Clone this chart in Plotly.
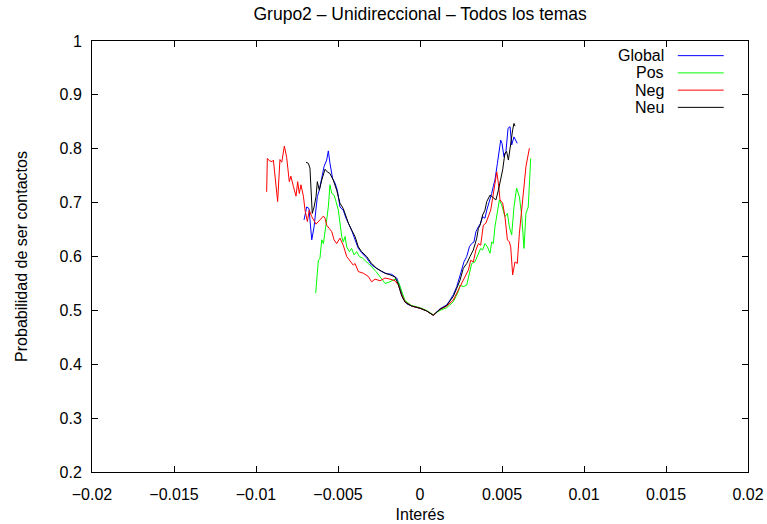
import plotly.graph_objects as go

# ---- data ----
x_global = [-0.00707, -0.00691, -0.00677, -0.00660, -0.00646, -0.00634, -0.00626, -0.00614, -0.00599, -0.00585,
            -0.00569, -0.00559, -0.00549, -0.00533, -0.00518, -0.00504, -0.00488, -0.00468, -0.00451, -0.00437,
            -0.00417, -0.00396, -0.00376, -0.00356, -0.00325, -0.00295, -0.00264, -0.00234, -0.00203, -0.00173,
            -0.00142, -0.00122, -0.00102, -0.00080, -0.00050, 0.0, 0.00040, 0.00081, 0.00122, 0.00163,
            0.00183, 0.00203, 0.00224, 0.00240, 0.00254, 0.00268, 0.00285, 0.00301, 0.00315, 0.00329,
            0.00341, 0.00356, 0.00370, 0.00382, 0.00396, 0.00407, 0.00417, 0.00427, 0.00437, 0.00447,
            0.00457, 0.00472, 0.00484, 0.00492, 0.00500, 0.00512, 0.00524, 0.00537, 0.00549, 0.00559,
            0.00573, 0.00593]
y_global = [0.668, 0.692, 0.689, 0.631, 0.655, 0.686, 0.711, 0.723, 0.748, 0.767,
            0.779, 0.796, 0.773, 0.745, 0.736, 0.723, 0.692, 0.686, 0.671, 0.662,
            0.649, 0.631, 0.615, 0.607, 0.597, 0.584, 0.578, 0.572, 0.568, 0.567,
            0.560, 0.544, 0.522, 0.512, 0.508, 0.504, 0.499, 0.491, 0.503, 0.510,
            0.519, 0.529, 0.544, 0.563, 0.575, 0.590, 0.600, 0.618, 0.624, 0.627,
            0.646, 0.655, 0.662, 0.674, 0.671, 0.686, 0.696, 0.705, 0.717, 0.730,
            0.742, 0.773, 0.804, 0.816, 0.810, 0.785, 0.795, 0.838, 0.841, 0.807,
            0.822, 0.810]

x_pos = [-0.00636, -0.00626, -0.00620, -0.00610, -0.00599, -0.00589, -0.00579, -0.00569, -0.00559, -0.00549,
         -0.00538, -0.00524, -0.00512, -0.00498, -0.00488, -0.00477, -0.00468, -0.00457, -0.00447, -0.00431,
         -0.00417, -0.00402, -0.00386, -0.00370, -0.00350, -0.00325, -0.00295, -0.00268, -0.00244, -0.00213,
         -0.00183, -0.00152, -0.00132, -0.00112, -0.00091, -0.00051, 0.0, 0.00040, 0.00081, 0.00122,
         0.00163, 0.00203, 0.00234, 0.00244, 0.00264, 0.00285, 0.00301, 0.00315, 0.00335, 0.00356,
         0.00370, 0.00382, 0.00396, 0.00411, 0.00427, 0.00437, 0.00447, 0.00457, 0.00472, 0.00484,
         0.00498, 0.00508, 0.00518, 0.00533, 0.00545, 0.00559, 0.00573, 0.00589, 0.00606, 0.00620,
         0.00634, 0.00646, 0.00660, 0.00675]
y_pos = [0.532, 0.575, 0.592, 0.597, 0.631, 0.624, 0.643, 0.668, 0.692, 0.733,
         0.717, 0.714, 0.702, 0.686, 0.662, 0.637, 0.627, 0.637, 0.618, 0.609,
         0.615, 0.603, 0.609, 0.600, 0.597, 0.590, 0.581, 0.572, 0.563, 0.550,
         0.553, 0.558, 0.553, 0.535, 0.518, 0.509, 0.505, 0.500, 0.492, 0.500,
         0.505, 0.516, 0.535, 0.547, 0.544, 0.547, 0.569, 0.587, 0.590, 0.606,
         0.615, 0.612, 0.624, 0.618, 0.606, 0.627, 0.624, 0.655, 0.680, 0.705,
         0.696, 0.686, 0.674, 0.680, 0.655, 0.640, 0.692, 0.727, 0.711, 0.677,
         0.615, 0.680, 0.692, 0.782]

x_neg = [-0.00935, -0.00931, -0.00919, -0.00902, -0.00894, -0.00868, -0.00854, -0.00843, -0.00827, -0.00813,
         -0.00797, -0.00787, -0.00772, -0.00756, -0.00746, -0.00736, -0.00726, -0.00711, -0.00701, -0.00687,
         -0.00675, -0.00660, -0.00634, -0.00614, -0.00589, -0.00579, -0.00569, -0.00553, -0.00538, -0.00524,
         -0.00508, -0.00488, -0.00468, -0.00447, -0.00423, -0.00407, -0.00396, -0.00376, -0.00346, -0.00315,
         -0.00295, -0.00274, -0.00244, -0.00213, -0.00183, -0.00152, -0.00132, -0.00112, -0.00091, -0.00051,
         0.0, 0.00040, 0.00081, 0.00122, 0.00163, 0.00203, 0.00234, 0.00254, 0.00274, 0.00295,
         0.00309, 0.00325, 0.00341, 0.00356, 0.00370, 0.00386, 0.00402, 0.00417, 0.00431, 0.00443,
         0.00457, 0.00468, 0.00478, 0.00488, 0.00504, 0.00518, 0.00533, 0.00545, 0.00553, 0.00565,
         0.00579, 0.00593, 0.00606, 0.00620, 0.00634, 0.00646, 0.00667]
y_neg = [0.720, 0.782, 0.778, 0.776, 0.779, 0.702, 0.780, 0.775, 0.805, 0.784,
         0.739, 0.749, 0.730, 0.712, 0.739, 0.717, 0.733, 0.712, 0.686, 0.665,
         0.686, 0.674, 0.660, 0.666, 0.675, 0.671, 0.658, 0.652, 0.646, 0.631,
         0.624, 0.634, 0.621, 0.600, 0.590, 0.584, 0.587, 0.572, 0.569, 0.563,
         0.553, 0.558, 0.555, 0.560, 0.558, 0.555, 0.547, 0.529, 0.516, 0.508,
         0.504, 0.499, 0.491, 0.502, 0.508, 0.519, 0.538, 0.550, 0.563, 0.575,
         0.593, 0.590, 0.612, 0.624, 0.621, 0.658, 0.662, 0.674, 0.686, 0.708,
         0.736, 0.757, 0.736, 0.705, 0.699, 0.674, 0.631, 0.627, 0.618, 0.566,
         0.590, 0.587, 0.643, 0.686, 0.730, 0.767, 0.801]

x_neu = [-0.00695, -0.00681, -0.00671, -0.00665, -0.00657, -0.00646, -0.00634, -0.00626, -0.00614, -0.00599,
         -0.00579, -0.00565, -0.00549, -0.00529, -0.00508, -0.00488, -0.00468, -0.00447, -0.00437, -0.00417,
         -0.00396, -0.00376, -0.00356, -0.00325, -0.00295, -0.00264, -0.00234, -0.00213, -0.00183, -0.00152,
         -0.00132, -0.00112, -0.00091, -0.00051, 0.0, 0.00040, 0.00081, 0.00122, 0.00163, 0.00203,
         0.00224, 0.00244, 0.00264, 0.00285, 0.00305, 0.00325, 0.00346, 0.00356, 0.00366, 0.00382,
         0.00396, 0.00407, 0.00427, 0.00447, 0.00463, 0.00478, 0.00492, 0.00504, 0.00518, 0.00528,
         0.00539, 0.00553, 0.00565, 0.00573, 0.00579]
y_neu = [0.775, 0.773, 0.764, 0.711, 0.680, 0.692, 0.711, 0.739, 0.723, 0.742,
         0.762, 0.757, 0.754, 0.742, 0.723, 0.699, 0.689, 0.671, 0.662, 0.649,
         0.637, 0.618, 0.609, 0.600, 0.587, 0.578, 0.572, 0.569, 0.566, 0.562,
         0.548, 0.527, 0.515, 0.508, 0.504, 0.499, 0.491, 0.502, 0.509, 0.526,
         0.541, 0.556, 0.578, 0.587, 0.600, 0.612, 0.634, 0.652, 0.658, 0.677,
         0.686, 0.702, 0.714, 0.708, 0.705, 0.723, 0.745, 0.761, 0.792, 0.795,
         0.779, 0.813, 0.835, 0.847, 0.842]

series_names = ["Global", "Pos", "Neg", "Neu"]
series_colors = ["#0000ff", "#00ff00", "#ff0000", "#000000"]
x_ticks = [-0.02, -0.015, -0.01, -0.005, 0, 0.005, 0.01, 0.015, 0.02]
y_ticks = [0.2, 0.3, 0.4, 0.5, 0.6, 0.7, 0.8, 0.9, 1]

xs = [x_global, x_pos, x_neg, x_neu]
ys = [y_global, y_pos, y_neg, y_neu]

FONT = "Liberation Sans, Arial, Helvetica, sans-serif"
FS = 16

fig = go.Figure()
for name, color, xv, yv in zip(series_names, series_colors, xs, ys):
    fig.add_trace(go.Scatter(x=xv, y=yv, mode="lines", name=name,
                             line=dict(color=color, width=1), showlegend=False))

# gnuplot-style key: right-aligned labels with line samples on the right
key_y = [0.966, 0.926, 0.886, 0.846]
for name, color, ky in zip(series_names, series_colors, key_y):
    fig.add_annotation(x=0.875, y=ky, xref="paper", yref="paper", text=name,
                       showarrow=False, xanchor="right", yanchor="middle",
                       font=dict(family=FONT, size=FS, color="black"))
    fig.add_shape(type="line", xref="paper", yref="paper", x0=0.893, x1=0.963,
                  y0=ky, y1=ky, line=dict(color=color, width=1))

axis_common = dict(showline=True, linecolor="black", linewidth=1, mirror="ticks",
                   ticks="inside", ticklen=6, tickcolor="black", tickwidth=1,
                   showgrid=False, zeroline=False, automargin=False,
                   tickfont=dict(family=FONT, size=FS, color="black"))

fig.update_layout(
    width=767, height=524,
    margin=dict(l=92, r=19, t=41, b=52),
    paper_bgcolor="white", plot_bgcolor="white",
    title=dict(text="Grupo2 – Unidireccional – Todos los temas", x=0.5478, xanchor="center",
               y=0.973, yanchor="middle", font=dict(family=FONT, size=17.5, color="black")),
    xaxis=dict(range=[-0.02, 0.02], tickvals=x_ticks,
               ticktext=[("−" + f"{abs(v):g}") if v < 0 else f"{v:g}" for v in x_ticks],
               title=dict(text="Interés", font=dict(family=FONT, size=FS, color="black"), standoff=6),
               ticklabelstandoff=8, **axis_common),
    yaxis=dict(range=[0.2, 1], tickvals=y_ticks, ticktext=[f"{v:g}" for v in y_ticks],
               title=dict(text="Probabilidad de ser contactos", font=dict(family=FONT, size=FS, color="black"), standoff=27),
               ticklabelstandoff=6, **axis_common),
)

# remove the default page margin so the figure fills the window exactly
fig.write_html("out.html",
               config={"displayModeBar": False},
               post_script="document.body.style.margin='0';document.body.style.overflow='hidden';")
